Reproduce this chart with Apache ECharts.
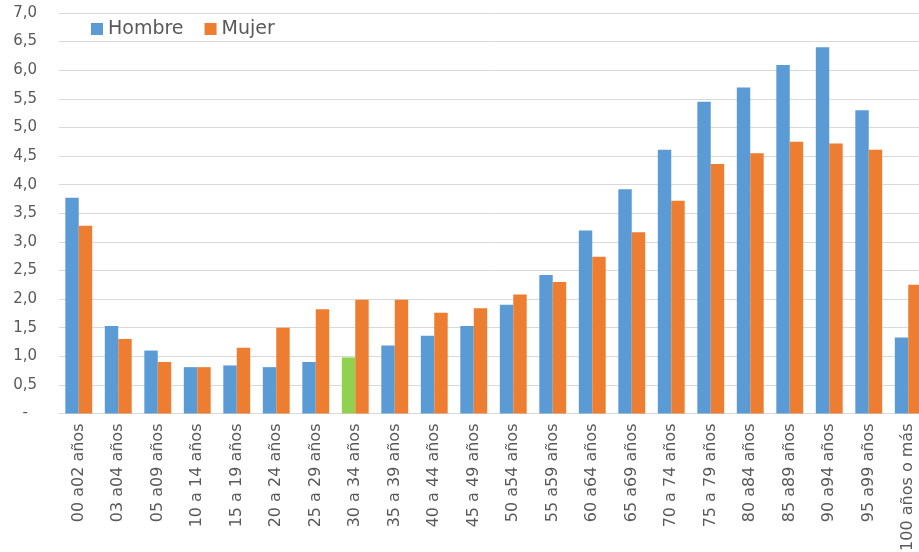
<!DOCTYPE html>
<html>
<head>
<meta charset="utf-8">
<script src="https://cdn.jsdelivr.net/npm/echarts@6/dist/echarts.min.js"></script>
<style>
  html, body { margin: 0; padding: 0; background: #ffffff; }
  #chart { width: 919px; height: 552px; }
</style>
</head>
<body>
<div id="chart"></div>
<script>
// Age groups (categories)
const categories = [
  '00 a02 años', '03 a04 años', '05 a09 años', '10 a 14 años', '15 a 19 años',
  '20 a 24 años', '25 a 29 años', '30 a 34 años', '35 a 39 años', '40 a 44 años',
  '45 a 49 años', '50 a54 años', '55 a59 años', '60 a64 años', '65 a69 años',
  '70 a 74 años', '75 a 79 años', '80 a84 años', '85 a89 años', '90 a94 años',
  '95 a99 años', '100 años o más'
];

// Values per series
const hombre = [3.77, 1.53, 1.10, 0.81, 0.84, 0.81, 0.90, 0.98, 1.19, 1.36, 1.53,
                1.90, 2.42, 3.20, 3.92, 4.61, 5.45, 5.70, 6.09, 6.40, 5.30, 1.33];
const mujer  = [3.28, 1.30, 0.90, 0.81, 1.15, 1.50, 1.82, 1.99, 1.99, 1.76, 1.84,
                2.08, 2.30, 2.74, 3.17, 3.72, 4.36, 4.55, 4.75, 4.72, 4.61, 2.25];

// Category whose Hombre bar is highlighted
const highlightCategory = '30 a 34 años';

// Y tick labels, from 0 to 7 in steps of 0.5
const yTickLabels = ['-', '0,5', '1,0', '1,5', '2,0', '2,5', '3,0', '3,5',
                     '4,0', '4,5', '5,0', '5,5', '6,0', '6,5', '7,0'];

const BLUE = '#5B9BD5', ORANGE = '#ED7D31', GREEN = '#92D050';
const TEXT = '#595959', GRID = '#d9d9d9';
const FONT = 'DejaVu Sans';

const chart = echarts.init(document.getElementById('chart'), null, { renderer: 'canvas' });

const hombreData = hombre.map((v, i) => categories[i] === highlightCategory
  ? { value: v, itemStyle: { color: GREEN } }
  : v);

chart.setOption({
  animation: false,
  backgroundColor: '#ffffff',
  legend: {
    left: 86,
    top: 14,
    icon: 'rect',
    itemWidth: 12,
    itemHeight: 12,
    itemGap: 21,
    textStyle: { fontFamily: FONT, fontSize: 19, color: TEXT, lineHeight: 20 },
    data: ['Hombre', 'Mujer']
  },
  // the plot runs a little past the right edge, so the last group is clipped
  grid: { left: 59, right: -9, top: 13, bottom: 138.5, containLabel: false, outerBoundsMode: 'none' },
  xAxis: {
    type: 'category',
    data: categories,
    axisLine: { show: true, lineStyle: { color: GRID, width: 1 } },
    axisTick: { show: false },
    axisLabel: {
      interval: 0,
      rotate: 90,
      margin: 10,
      fontFamily: FONT,
      fontSize: 16,
      color: TEXT
    }
  },
  yAxis: {
    type: 'value',
    min: 0,
    max: 7,
    interval: 0.5,
    axisLine: { show: false },
    axisTick: { show: false },
    splitLine: { lineStyle: { color: GRID, width: 1 } },
    axisLabel: {
      margin: 22,
      fontFamily: FONT,
      fontSize: 15,
      color: TEXT,
      formatter: function (v) {
        const s = yTickLabels[Math.round(v / 0.5)];
        return s === '-' ? '{dash|-}' : s;
      },
      rich: {
        dash: { fontFamily: FONT, fontSize: 15, color: TEXT, padding: [0, 9, 0, 0] }
      }
    }
  },
  series: [
    {
      name: 'Hombre',
      type: 'bar',
      data: hombreData,
      itemStyle: { color: BLUE },
      barGap: '0%',
      barCategoryGap: '32%'
    },
    {
      name: 'Mujer',
      type: 'bar',
      data: mujer,
      itemStyle: { color: ORANGE },
      barGap: '0%',
      barCategoryGap: '32%'
    }
  ]
});
</script>
</body>
</html>
